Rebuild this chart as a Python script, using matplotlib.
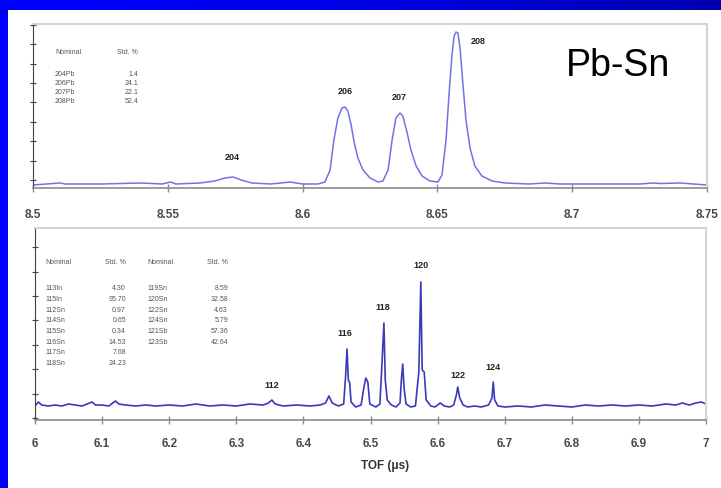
import matplotlib
matplotlib.use("Agg")
from matplotlib import pyplot as plt
import numpy as np

plt.rcParams['font.family'] = ['Liberation Sans', 'DejaVu Sans']

# Pb spectrum (top panel), TOF in us, intensity in arbitrary units
pb_tof = [8.500, 8.505, 8.510, 8.512, 8.525, 8.540, 8.548, 8.551, 8.553, 8.562,
          8.5675, 8.5712, 8.5742, 8.5772, 8.5812, 8.588, 8.592, 8.5953, 8.600, 8.6057,
          8.6083, 8.6102, 8.6116, 8.6131, 8.6146, 8.6157, 8.6168, 8.6180, 8.6191, 8.6205,
          8.6224, 8.6250, 8.6280, 8.6298, 8.6317, 8.6332, 8.6346, 8.6361, 8.6372, 8.6387,
          8.6402, 8.6421, 8.6443, 8.6473, 8.6502, 8.6517, 8.6532, 8.6543, 8.6554, 8.6562,
          8.6569, 8.6576, 8.6584, 8.6595, 8.6606, 8.6621, 8.6639, 8.6665, 8.6703, 8.6751,
          8.684, 8.690, 8.6955, 8.710, 8.7251, 8.730, 8.7326, 8.740, 8.750]
pb_int = [3, 4, 5, 4, 4, 5, 4, 6, 4, 5,
          7, 10, 11, 8, 5, 4, 5, 6, 4, 4,
          6, 18, 48, 70, 80, 81, 77, 63, 46, 30,
          18, 10, 6, 7, 18, 48, 70, 75, 72, 56,
          38, 22, 12, 7, 6, 13, 48, 93, 133, 152,
          156, 155, 140, 103, 68, 40, 22, 12, 7, 5,
          4, 5, 4, 4, 4, 5, 4.5, 5, 3]

# Sn spectrum (bottom panel)
sn_tof = [6.000, 6.005, 6.010, 6.020, 6.030, 6.040, 6.050, 6.060, 6.070, 6.085,
          6.090, 6.100, 6.110, 6.120, 6.125, 6.135, 6.150, 6.165, 6.180, 6.200,
          6.220, 6.240, 6.260, 6.280, 6.300, 6.320, 6.340, 6.348, 6.353, 6.358,
          6.370, 6.390, 6.410, 6.425, 6.433, 6.438, 6.443, 6.452, 6.460, 6.463,
          6.465, 6.467, 6.469, 6.471, 6.478, 6.486, 6.490, 6.493, 6.496, 6.499,
          6.508, 6.514, 6.517, 6.520, 6.522, 6.525, 6.531, 6.538, 6.544, 6.546,
          6.548, 6.550, 6.553, 6.560, 6.567, 6.572, 6.575, 6.577, 6.580, 6.583,
          6.590, 6.596, 6.604, 6.610, 6.618, 6.624, 6.628, 6.630, 6.633, 6.638,
          6.645, 6.655, 6.665, 6.676, 6.681, 6.683, 6.685, 6.690, 6.700, 6.720,
          6.740, 6.760, 6.780, 6.800, 6.820, 6.840, 6.860, 6.880, 6.900, 6.920,
          6.940, 6.955, 6.965, 6.975, 6.985, 6.993, 7.000]
sn_int = [14, 18, 15, 14, 15, 14, 16, 15, 14, 18,
          15, 15, 14, 19, 16, 15, 14, 15, 14, 15,
          14, 16, 14, 15, 14, 16, 15, 17, 20, 16,
          14, 15, 14, 15, 17, 24, 17, 14, 16, 45,
          71, 40, 37, 18, 13, 15, 32, 42, 38, 16,
          13, 16, 55, 97, 40, 20, 15, 13, 17, 40,
          56, 32, 16, 13, 14, 48, 138, 50, 48, 20,
          14, 13, 17, 14, 13, 15, 25, 33, 22, 15,
          13, 14, 13, 15, 22, 38, 20, 14, 13, 14,
          13, 15, 14, 13, 15, 14, 15, 14, 15, 14,
          16, 15, 17, 15, 17, 18, 16]

pb_peak_labels = ['204', '206', '207', '208']
pb_peak_pos = [(8.574, 30), (8.6157, 96), (8.636, 90), (8.665, 146)]
sn_peak_labels = ['112', '116', '118', '120', '122', '124']
sn_peak_pos = [(6.353, 35), (6.462, 86), (6.519, 112), (6.575, 155), (6.630, 45), (6.683, 53)]

pb_ticks = [8.5, 8.55, 8.6, 8.65, 8.7, 8.75]
pb_ticklabels = ['8.5', '8.55', '8.6', '8.65', '8.7', '8.75']
sn_ticks = [6.0, 6.1, 6.2, 6.3, 6.4, 6.5, 6.6, 6.7, 6.8, 6.9, 7.0]
sn_ticklabels = ['6', '6.1', '6.2', '6.3', '6.4', '6.5', '6.6', '6.7', '6.8', '6.9', '7']

pb_iso = ['204Pb', '206Pb', '207Pb', '208Pb']
pb_std = ['1.4', '24.1', '22.1', '52.4']
sn_iso_a = ['113In', '115In', '112Sn', '114Sn', '115Sn', '116Sn', '117Sn', '118Sn']
sn_std_a = ['4.30', '95.70', '0.97', '0.65', '0.34', '14.53', '7.68', '24.23']
sn_iso_b = ['119Sn', '120Sn', '122Sn', '124Sn', '121Sb', '123Sb']
sn_std_b = ['8.59', '32.58', '4.63', '5.79', '57.36', '42.64']

W, H = 721, 488
fig = plt.figure(figsize=(W / 100, H / 100), dpi=100)
fig.patch.set_facecolor('white')


def px(x, y):
    return x / W, 1 - y / H


# blue slide frame
band = fig.add_axes([0, 1 - 10 / H, 1, 10 / H])
grad = np.linspace(0, 1, 256).reshape(1, -1)
cmap = matplotlib.colors.LinearSegmentedColormap.from_list('b', ['#0000ff', '#0000e6', '#0000b0'])
band.imshow(grad, aspect='auto', cmap=cmap, extent=[0, 1, 0, 1])
band.axis('off')
left = fig.add_axes([0, 0, 8 / W, 1])
left.set_facecolor('#0000ff')
left.set_xticks([])
left.set_yticks([])
for s in left.spines.values():
    s.set_visible(False)


def style(ax, ticks, labels, pad):
    ax.set_xticks(ticks)
    ax.set_xticklabels(labels)
    for s in ['top', 'right']:
        ax.spines[s].set_color('#d4d4d4')
        ax.spines[s].set_linewidth(1.5)
    ax.spines['left'].set_color('#404040')
    ax.spines['bottom'].set_color('#8c8c8c')
    ax.spines['bottom'].set_linewidth(1.2)
    ax.tick_params(axis='x', direction='inout', length=6, width=1, color='#8c8c8c',
                   pad=pad, labelsize=8.5, labelcolor='#4a4a4a')
    for t in ax.get_xticklabels():
        t.set_fontweight('bold')
    ax.tick_params(axis='y', direction='inout', length=5, width=0.8, color='#404040',
                   labelleft=False)


# top panel: Pb
ax1 = fig.add_axes([33 / W, 1 - 188 / H, 674 / W, 164 / H])
ax1.plot(pb_tof, pb_int, color='#7272e4', lw=1.1)
ax1.set_xlim(8.5, 8.75)
ax1.set_ylim(0, 164)
ax1.set_yticks(np.arange(8, 165, 19.4))
style(ax1, pb_ticks, pb_ticklabels, 12)
for lab, (t, v) in zip(pb_peak_labels, pb_peak_pos):
    ax1.text(t, v, lab, ha='center', va='center', fontsize=6.5, fontweight='bold', color='#222222')
ax1.text(*px(618, 66), 'Pb-Sn', transform=fig.transFigure, ha='center', va='center',
         fontsize=27, color='black')

# bottom panel: Sn
ax2 = fig.add_axes([35 / W, 1 - 420 / H, 671 / W, 192 / H])
ax2.plot(sn_tof, sn_int, color='#3a3ab8', lw=1.2)
ax2.set_xlim(6, 7)
ax2.set_ylim(0, 192)
ax2.set_yticks(np.arange(2, 190, 24.4))
style(ax2, sn_ticks, sn_ticklabels, 10)
for lab, (t, v) in zip(sn_peak_labels, sn_peak_pos):
    ax2.text(t, v, lab, ha='center', va='center', fontsize=6.5, fontweight='bold', color='#222222')
fig.text(*px(385, 466), 'TOF (\u03bcs)', ha='center', va='center', fontsize=8.5,
         fontweight='bold', color='#333333')

# isotope tables
tkw = dict(fontsize=5, color='#555555', va='center')
fig.text(*px(55, 52), 'Nominal', ha='left', **tkw)
fig.text(*px(138, 52), 'Std. %', ha='right', **tkw)
for i, (n, v) in enumerate(zip(pb_iso, pb_std)):
    y = 75 + i * 8.7
    fig.text(*px(55, y), n, ha='left', **tkw)
    fig.text(*px(138, y), v, ha='right', **tkw)

fig.text(*px(45, 263), 'Nominal', ha='left', **tkw)
fig.text(*px(126, 263), 'Std. %', ha='right', **tkw)
fig.text(*px(147, 263), 'Nominal', ha='left', **tkw)
fig.text(*px(228, 263), 'Std. %', ha='right', **tkw)
for i, (n, v) in enumerate(zip(sn_iso_a, sn_std_a)):
    y = 289 + i * 10.6
    fig.text(*px(45, y), n, ha='left', **tkw)
    fig.text(*px(126, y), v, ha='right', **tkw)
for i, (n, v) in enumerate(zip(sn_iso_b, sn_std_b)):
    y = 289 + i * 10.6
    fig.text(*px(147, y), n, ha='left', **tkw)
    fig.text(*px(228, y), v, ha='right', **tkw)

fig.savefig('out.png', dpi=100)
